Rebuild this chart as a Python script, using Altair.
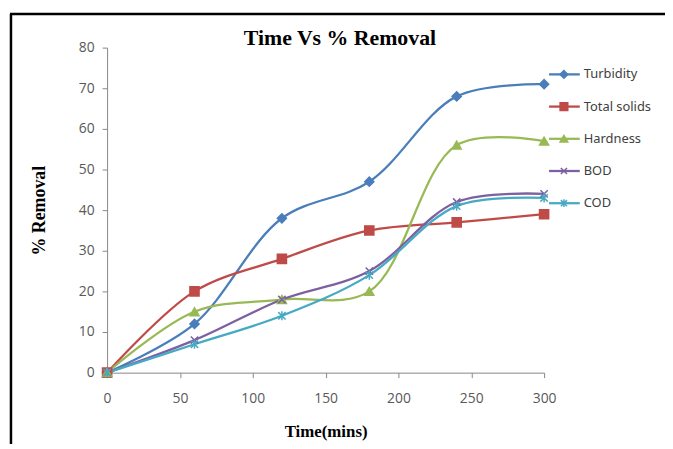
import altair as alt
import pandas as pd

times = [0, 60, 120, 180, 240, 300]
series_names = ["Turbidity", "Total solids", "Hardness", "BOD", "COD"]
turbidity = [0, 12, 38, 47, 68, 71]
total_solids = [0, 20, 28, 35, 37, 39]
hardness = [0, 15, 18, 20, 56, 57]
bod = [0, 8, 18, 25, 42, 44]
cod = [0, 7, 14, 24, 41, 43]
x_ticks = [0, 50, 100, 150, 200, 250, 300]
y_ticks = [0, 10, 20, 30, 40, 50, 60, 70, 80]
chart_title = "Time Vs % Removal"

colors = ["#4A7EBB", "#BE4B48", "#98B954", "#7D60A0", "#46AAC5"]
shapes = [
    "diamond",
    "square",
    "triangle-up",
    "M-0.8,-0.8L0.8,0.8M-0.8,0.8L0.8,-0.8",
    "M-0.8,-0.8L0.8,0.8M-0.8,0.8L0.8,-0.8M0,-1L0,1",
]

rows = []
for name, vals in zip(series_names, [turbidity, total_solids, hardness, bod, cod]):
    for t, v in zip(times, vals):
        rows.append({"time": t, "value": v, "series": name, "order": series_names.index(name)})
df = pd.DataFrame(rows)
legend_df = pd.DataFrame({"series": series_names})
title_df = pd.DataFrame({"t": [chart_title]})

W, H = 441, 328
color_scale = alt.Scale(domain=series_names, range=colors)
shape_scale = alt.Scale(domain=series_names, range=shapes)

x_enc = alt.X("time:Q", scale=alt.Scale(domain=[0, 300], nice=False),
              axis=alt.Axis(values=x_ticks, title="Time(mins)", grid=False, labelFlush=False))
y_enc = alt.Y("value:Q", scale=alt.Scale(domain=[0, 80], nice=False),
              axis=alt.Axis(values=y_ticks, title="% Removal", grid=False))

lines = alt.Chart(df).mark_line(interpolate="catmull-rom", strokeWidth=2.3).encode(
    x=x_enc, y=y_enc,
    color=alt.Color("series:N", scale=color_scale, legend=None),
    detail="order:O",
)

points = alt.Chart(df).mark_point(filled=False, size=85, strokeWidth=1.5, opacity=1).encode(
    x="time:Q", y="value:Q",
    color=alt.Color("series:N", scale=color_scale, legend=None),
    fill=alt.Fill("series:N", scale=color_scale, legend=None),
    shape=alt.Shape("series:N", scale=shape_scale, legend=None),
)

main = alt.layer(lines, points)

leg_y = alt.Y("series:N", scale=alt.Scale(type="point", domain=series_names, range=[27, 157], padding=0), axis=None)

leg_line = alt.Chart(legend_df).mark_rule(strokeWidth=2.3).encode(
    y=leg_y, x=alt.value(446), x2=alt.value(477),
    color=alt.Color("series:N", scale=color_scale, legend=None),
)
leg_pt = alt.Chart(legend_df).mark_point(filled=False, size=60, strokeWidth=1.5, opacity=1).encode(
    y=leg_y, x=alt.value(461),
    color=alt.Color("series:N", scale=color_scale, legend=None),
    fill=alt.Fill("series:N", scale=color_scale, legend=None),
    shape=alt.Shape("series:N", scale=shape_scale, legend=None),
)
leg_txt = alt.Chart(legend_df).mark_text(align="left", baseline="middle", font="Noto Sans",
                                         fontSize=13, color="#404040").encode(
    y=leg_y, x=alt.value(481), text="series:N",
)
legend = alt.layer(leg_line, leg_pt, leg_txt)

title_mark = alt.Chart(title_df).mark_text(align="center", baseline="alphabetic", font="Liberation Serif",
                                           fontSize=22, fontWeight="bold", color="black").encode(
    x=alt.value(235), y=alt.value(-3), text="t:N"
)

border = alt.Chart(title_df).mark_rule(color="black", strokeWidth=2.5).encode(
    x=alt.value(-97), y=alt.value(-34), y2=alt.value(420)
)
border_top = alt.Chart(title_df).mark_rule(color="black", strokeWidth=2.5).encode(
    x=alt.value(-98), x2=alt.value(620), y=alt.value(-34)
)

chart = alt.layer(main, legend, title_mark, border, border_top).resolve_scale(
    y="independent"
).properties(
    width=W, height=H,
    autosize=alt.AutoSizeParams(type="none"),
    padding={"left": 100, "top": 38, "right": 122, "bottom": 70},
).configure_view(stroke=None).configure_axis(
    labelFont="Open Sans", labelFontSize=14, labelColor="#595959",
    domainColor="#878787", tickColor="#878787", tickSize=5, domainWidth=1,
    titleFont="Liberation Serif", titleFontWeight="bold", titleColor="black",
).configure_axisX(labelPadding=14, titlePadding=18, titleFontSize=17).configure_axisY(
    labelPadding=8, titlePadding=30, titleFontSize=18)

chart.save("out.html", embed_options={"renderer": "svg", "actions": False})
